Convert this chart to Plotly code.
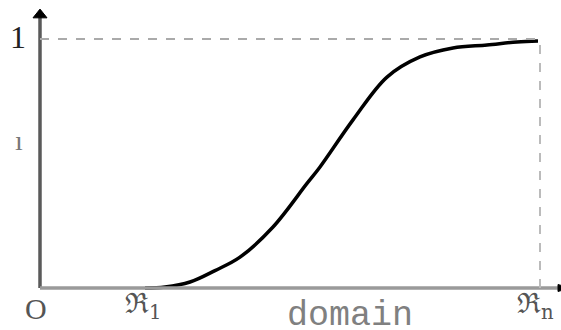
import plotly.graph_objects as go

# curve data (domain fraction, membership)
curve_x = [0.21, 0.25, 0.30, 0.35, 0.40, 0.466, 0.534, 0.56, 0.626, 0.694, 0.76, 0.826, 0.894, 0.954, 0.996]
curve_y = [0.0, 0.004, 0.024, 0.07, 0.124, 0.245, 0.42, 0.486, 0.675, 0.847, 0.928, 0.964, 0.976, 0.988, 0.992]

x_end = 1.0   # position of R_n
y_top = 1.0

fig = go.Figure()
fig.add_trace(go.Scatter(x=curve_x, y=curve_y, mode="lines",
                         line=dict(color="black", width=3.5, shape="spline", smoothing=1.0),
                         hoverinfo="skip", showlegend=False))

# axes
fig.add_shape(type="line", x0=0, y0=0, x1=0, y1=1.09, line=dict(color="#5a5a5a", width=3.5))
fig.add_shape(type="line", x0=0, y0=0, x1=1.05, y1=0, line=dict(color="#9a9a9a", width=3.5))
fig.add_shape(type="path", path="M -0.014 1.085 L 0.014 1.085 L 0 1.12 Z",
              fillcolor="black", line=dict(color="black", width=1))
fig.add_shape(type="path", path="M 1.036 -0.014 L 1.036 0.014 L 1.06 0 Z",
              fillcolor="black", line=dict(color="black", width=1))
# dashed guides
fig.add_shape(type="line", x0=0, y0=y_top, x1=x_end, y1=y_top,
              line=dict(color="#aaaaaa", width=2, dash="dash"))
fig.add_shape(type="line", x0=x_end, y0=0, x1=x_end, y1=y_top,
              line=dict(color="#bbbbbb", width=2, dash="dash"))

def txt(x, y, s, size, color="#333", family="Liberation Serif, serif", xanchor="center"):
    fig.add_annotation(x=x, y=y, text=s, showarrow=False,
                       font=dict(size=size, color=color, family=family),
                       xanchor=xanchor, yanchor="middle")

txt(-0.045, 1.01, "1", 32, "#222")
txt(-0.042, 0.594, "ı", 28, "#777")
txt(-0.008, -0.084, "O", 30, "#555")
txt(0.166, -0.07, "ℜ<sub>1</sub>", 28, "#555", "DejaVu Serif, serif", "left")
txt(0.62, -0.112, "domain", 35, "#808080", "Liberation Mono, Courier New, monospace")
txt(0.95, -0.07, "ℜ<sub>n</sub>", 28, "#555", "DejaVu Serif, serif", "left")

fig.update_layout(width=561, height=330, margin=dict(l=0, r=0, t=0, b=0),
                  plot_bgcolor="white", paper_bgcolor="white",
                  xaxis=dict(range=[-0.08, 1.042], visible=False, fixedrange=True),
                  yaxis=dict(range=[-0.1687, 1.1566], visible=False, fixedrange=True))
fig.write_html("out.html", config={"displayModeBar": False},
               post_script="document.body.style.margin='0';document.body.style.overflow='hidden';")
